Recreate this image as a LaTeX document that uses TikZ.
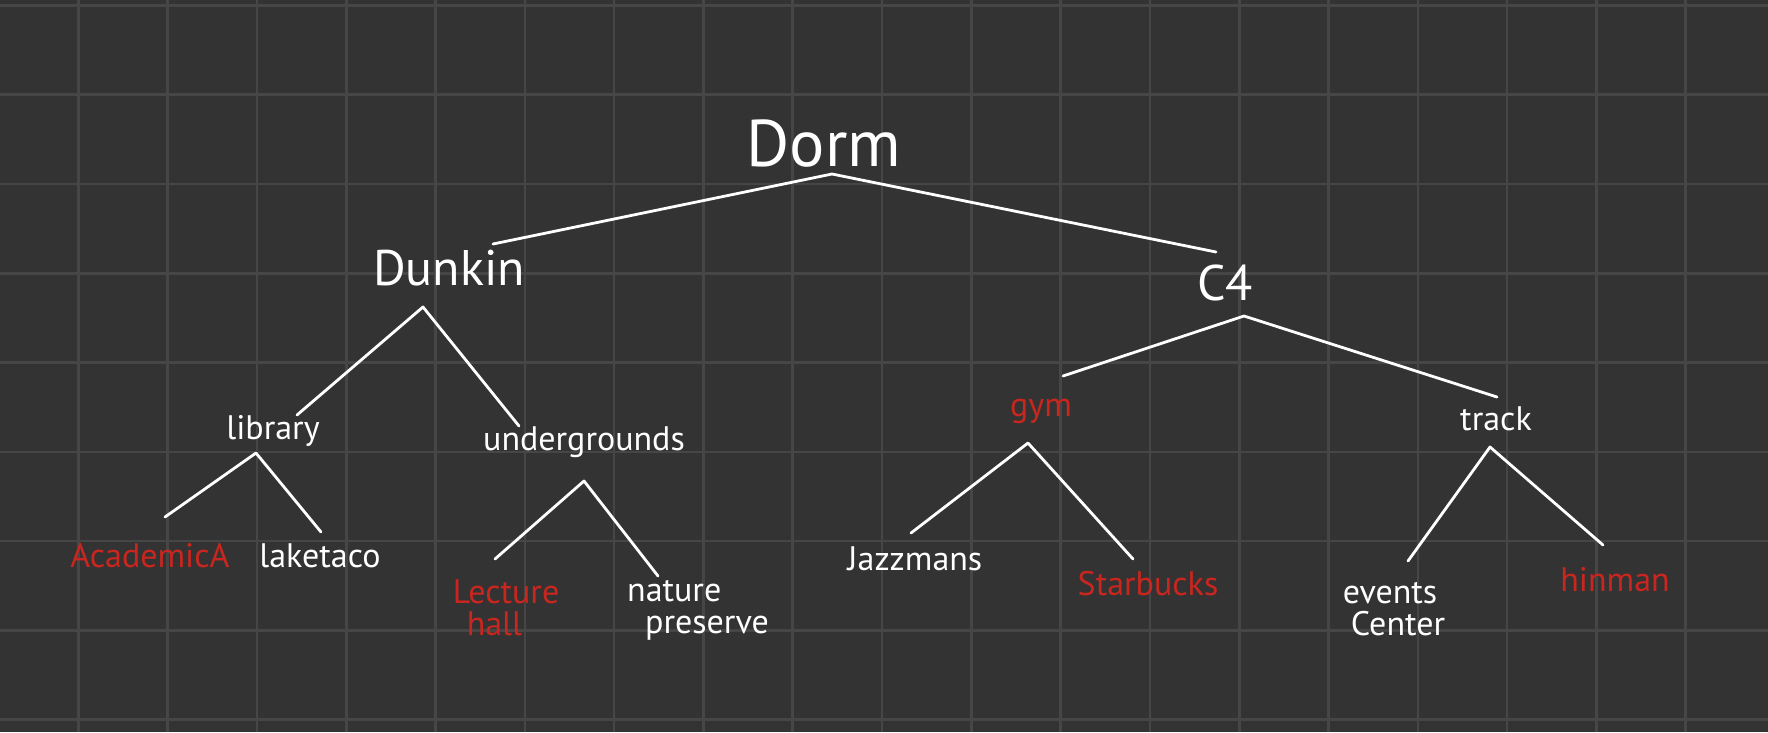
\documentclass[tikz,border=0pt]{standalone}
\usepackage{fontspec}
\setmainfont{PT Sans}
\definecolor{bg}{RGB}{51,51,51}
\definecolor{gridc}{RGB}{70,70,70}
\definecolor{inkred}{RGB}{200,38,30}
\begin{document}
\begin{tikzpicture}[x=1pt,y=-1pt,
  lbl/.style={text=white,inner sep=0pt,font=\fontsize{34}{32}\selectfont},
  redlbl/.style={lbl,text=inkred},
  mid/.style={text=white,inner sep=0pt,font=\fontsize{50}{50}\selectfont},
  top/.style={text=white,inner sep=0pt,font=\fontsize{66}{66}\selectfont},
  conn/.style={draw=white,line width=2.8pt,line cap=round,line join=round}]
\fill[bg] (0,0) rectangle (1768,732);
\useasboundingbox (0,0) rectangle (1768,732);
\foreach \k in {0,...,18} {\draw[gridc,line width=2.6pt] ({78.3+89.3*\k},0) -- ({78.3+89.3*\k},732);}
\foreach \k in {0,...,8} {\draw[gridc,line width=2.6pt] (0,{5.3+89.3*\k}) -- (1768,{5.3+89.3*\k});}

% nodes
\node[top] (dorm) at (824,144) {Dorm};
\node[mid] (dunkin) at (449,268) {Dunkin};
\node[mid] (c4) at (1225,283) {C4};
\node[lbl] (library) at (273,431) {library};
\node[lbl] (under) at (584,442) {undergrounds};
\node[redlbl] (gym) at (1041,411) {gym};
\node[lbl] (track) at (1496,419) {track};
\node[redlbl] (acad) at (150,556) {AcademicA};
\node[lbl] (lake) at (320,556) {laketaco};
\node[redlbl,align=left] (lecture) at (506,608) {Lecture\\\hspace*{14pt}hall};
\node[lbl,align=left] (nature) at (698,610) {nature\\\hspace*{18pt}preserve};
\node[lbl] (jazz) at (915,559) {Jazzmans};
\node[redlbl] (star) at (1148,584) {Starbucks};
\node[lbl,align=left] (events) at (1394,609) {events\\\hspace*{8pt}Center};
\node[redlbl] (hinman) at (1615,580) {hinman};

% connector end points
\coordinate (dorm-b) at (832,174);
\coordinate (dunkin-t) at (493,244);
\coordinate (c4-t) at (1216,252);
\coordinate (dunkin-b) at (423,307);
\coordinate (library-t) at (297,415);
\coordinate (under-t) at (519,426);
\coordinate (c4-b) at (1244,316);
\coordinate (gym-t) at (1063,376);
\coordinate (track-t) at (1497,397);
\coordinate (library-b) at (256,453);
\coordinate (acad-t) at (165,517);
\coordinate (lake-t) at (321,532);
\coordinate (under-b) at (584,481);
\coordinate (lecture-t) at (495,559);
\coordinate (nature-t) at (658,576);
\coordinate (gym-b) at (1028,443);
\coordinate (jazz-t) at (911,533);
\coordinate (star-t) at (1133,559);
\coordinate (track-b) at (1490,447);
\coordinate (events-t) at (1408,561);
\coordinate (hinman-t) at (1603,545);

\draw[conn] (dunkin-t) -- (dorm-b) -- (c4-t);
\draw[conn] (library-t) -- (dunkin-b) -- (under-t);
\draw[conn] (gym-t) -- (c4-b) -- (track-t);
\draw[conn] (acad-t) -- (library-b) -- (lake-t);
\draw[conn] (lecture-t) -- (under-b) -- (nature-t);
\draw[conn] (jazz-t) -- (gym-b) -- (star-t);
\draw[conn] (events-t) -- (track-b) -- (hinman-t);
\end{tikzpicture}
\end{document}
